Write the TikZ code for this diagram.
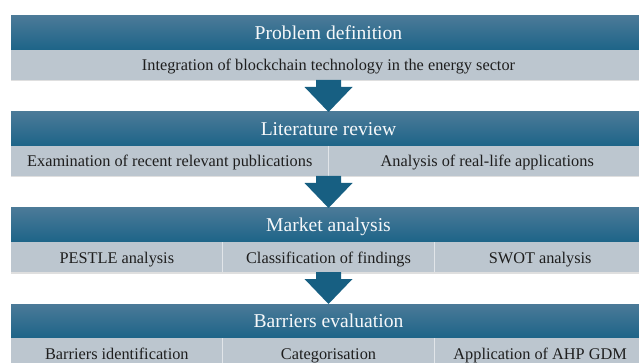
\documentclass[tikz,border=0pt]{standalone}
\usepackage{fontspec}
\setmainfont{Liberation Serif}
\usetikzlibrary{positioning, calc, shadows}
\definecolor{headtop}{HTML}{4B7A98}
\definecolor{headbot}{HTML}{1D6488}
\definecolor{subfill}{HTML}{BCC6CF}
\definecolor{flowblue}{HTML}{175F82}
\definecolor{subtext}{HTML}{1E1E1E}
\tikzstyle{header} = [rectangle, minimum width=635pt, minimum height=34pt, inner sep=0pt, outer sep=0pt, top color=headtop, bottom color=headbot, text=white!95!headtop, text height=14pt, text depth=1pt, font=\fontsize{19.6}{22}\selectfont]
\tikzstyle{subbox} = [rectangle, minimum width=635pt, minimum height=30pt, inner sep=0pt, outer sep=0pt, fill=subfill, text=subtext, text height=13pt, text depth=1pt, font=\fontsize{16.3}{19}\selectfont, drop shadow={shadow xshift=0pt, shadow yshift=-1.5pt, opacity=0.25}]
\tikzstyle{halfbox} = [subbox, minimum width=317.5pt]
\tikzstyle{thirdbox} = [subbox, minimum width=211.67pt]
\tikzstyle{divider} = [draw=white!55!subfill, line width=0.6pt]
\tikzstyle{flow} = [fill=flowblue]
\newcommand{\flowarrow}[2]{\fill[flow] (#1) ++(-12.5pt,0) -- ++(25pt,0) -- ($(#2.north)+(12.5pt,25pt)$) -- ++(11.5pt,0) -- (#2.north) -- ++(-24pt,25pt) -- ++(11.5pt,0) -- cycle;}

\begin{document}
\begin{tikzpicture}
\useasboundingbox (0,0) rectangle (639pt,-363pt);
% problem definition
\node (prob) [header] at (328.5pt,-33pt) {Problem definition};
\node (probsub) [subbox, below=0pt of prob] {Integration of blockchain technology in the energy sector};
% literature review
\node (lit) [header, below=62pt of prob] {Literature review};
\node (litA) [halfbox, below right=0pt and 0pt of lit.south west] {Examination of recent relevant publications};
\node (litB) [halfbox, right=0pt of litA] {Analysis of real-life applications};
% market analysis
\node (mkt) [header, below=62pt of lit] {Market analysis};
\node (mktA) [thirdbox, below right=0pt and 0pt of mkt.south west] {PESTLE analysis};
\node (mktB) [thirdbox, right=0pt of mktA] {Classification of findings};
\node (mktC) [thirdbox, right=0pt of mktB] {SWOT analysis};
% barriers evaluation
\node (bar) [header, below=62pt of mkt] {Barriers evaluation};
\node (barA) [thirdbox, below right=0pt and 0pt of bar.south west] {Barriers identification};
\node (barB) [thirdbox, right=0pt of barA] {Categorisation};
\node (barC) [thirdbox, right=0pt of barB] {Application of AHP GDM};
\draw[divider] (litA.north east) -- (litA.south east);
\draw[divider] (mktA.north east) -- (mktA.south east);
\draw[divider] (mktB.north east) -- (mktB.south east);
\draw[divider] (barA.north east) -- (barA.south east);
\draw[divider] (barB.north east) -- (barB.south east);
\flowarrow{probsub.south}{lit}
\flowarrow{litA.south east}{mkt}
\flowarrow{mktB.south}{bar}
\end{tikzpicture}
\end{document}
